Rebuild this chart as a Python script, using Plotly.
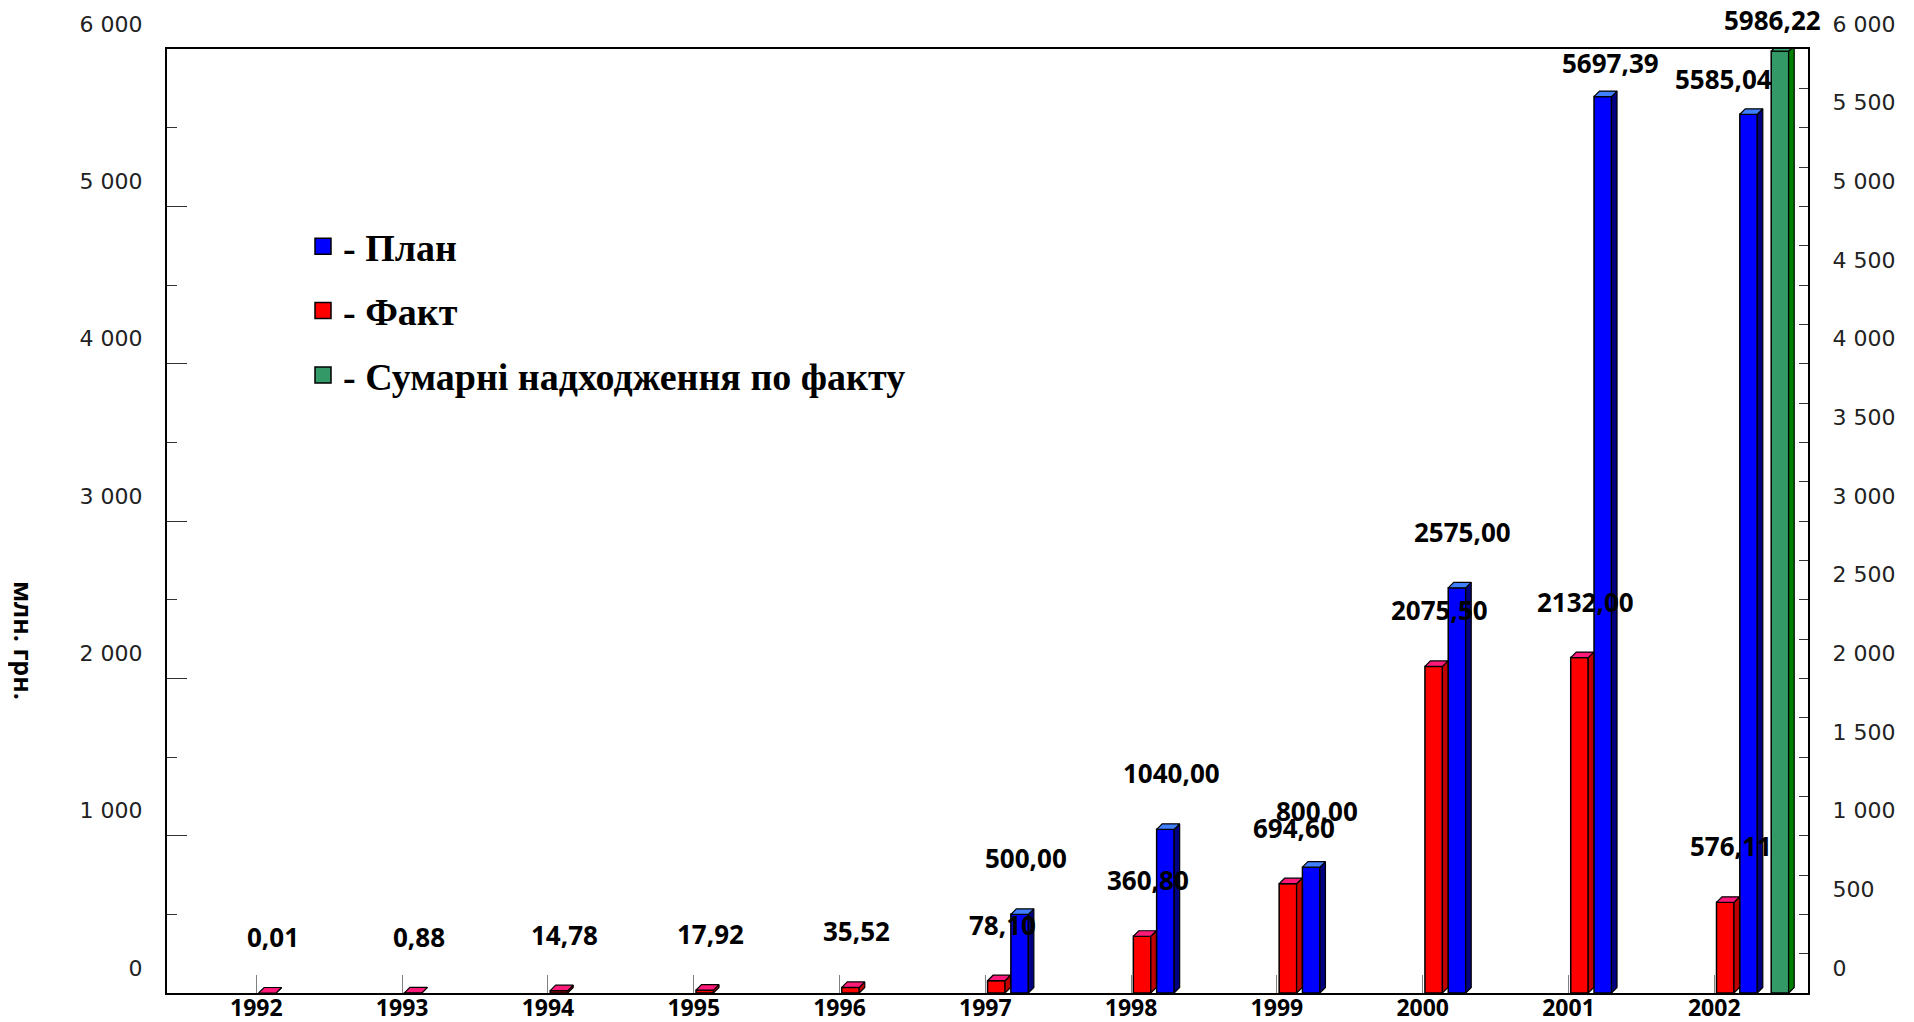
import plotly.graph_objects as go

# ---------------- data ----------------
years = [1992, 1993, 1994, 1995, 1996, 1997, 1998, 1999, 2000, 2001, 2002]
fact = [0.01, 0.88, 14.78, 17.92, 35.52, 78.10, 360.80, 694.60, 2075.50, 2132.00, 576.11]
plan = [None, None, None, None, None, 500.00, 1040.00, 800.00, 2575.00, 5697.39, 5585.04]
total_years = [2002]
total = [5986.22]

y_ticks_left = [0, 1000, 2000, 3000, 4000, 5000, 6000]
y_ticks_right = [0, 500, 1000, 1500, 2000, 2500, 3000, 3500, 4000, 4500, 5000, 5500, 6000]

# ---------------- geometry / style ----------------
OFF = 8                                   # page body margin
W, H = 1914 - OFF, 1022 - OFF
P_L, P_R, P_T, P_B = 167, 1808, 49, 993   # plot area in page pixels
ML, MT = P_L - OFF, P_T - OFF
MR, MB = W - (P_R - OFF), H - (P_B - OFF)
PW, PH = P_R - P_L, P_B - P_T
X_RANGE = [1991.387, 2002.643]
Y_RANGE = [0, 6000]
ux = (X_RANGE[1] - X_RANGE[0]) / PW      # x units per pixel
uy = (Y_RANGE[1] - Y_RANGE[0]) / PH      # y units per pixel
BAR_W = 17.5 * ux
DX, DY = 5.5 * ux, 5.5 * uy              # 3-D depth


def paper_x(px):
    return (px - P_L) / PW


def paper_y(py):
    return (P_B - py) / PH


LABEL_FONT = dict(family="Open Sans", size=26, color="black", weight="bold")
TICK_FONT = dict(family="DejaVu Sans", size=22, color="#222222")


def fmt(v):
    return f"{v:.2f}".replace(".", ",")


series = [
    dict(name="- План", xs=years, vals=plan, off=34.3, front="#0000FF", side="#000080",
         top="#4080FF", yax="y", rank=1),
    dict(name="- Факт", xs=years, vals=fact, off=11.0, front="#FF0000", side="#C00000",
         top="#FF1A7A", yax="y", rank=2),
    dict(name="- Сумарні надходження по факту", xs=total_years, vals=total, off=65.7,
         front="#339966", side="#008000", top="#3FAA72", yax="y2", rank=3),
]

# label shift overrides (px) for labels pushed by the chart edge
label_shift = {("- План", 2001): (8, 34), ("- План", 2002): (-25, 35),
               ("- Сумарні надходження по факту", 2002): (-7, 31)}

fig = go.Figure()
annotations = []

for s in series:
    xc, vv, yrs = [], [], []
    for x, v in zip(s["xs"], s["vals"]):
        if v is None:
            continue
        xc.append(x + s["off"] * ux)
        vv.append(v)
        yrs.append(x)
    # front faces
    fig.add_trace(go.Bar(
        x=xc, y=vv, width=BAR_W, name=s["name"], yaxis=s["yax"],
        marker=dict(color=s["front"], line=dict(color="black", width=1.5)),
        showlegend=False, hoverinfo="skip",
    ))
    # side and top faces
    sx, sy, tx, ty = [], [], [], []
    for x, v in zip(xc, vv):
        xl, xr = x - BAR_W / 2, x + BAR_W / 2
        sx += [xr, xr + DX, xr + DX, xr, xr, None]
        sy += [0, DY, v + DY, v, 0, None]
        tx += [xl, xl + DX, xr + DX, xr, xl, None]
        ty += [v, v + DY, v + DY, v, v, None]
    for px_, py_, col in ((sx, sy, s["side"]), (tx, ty, s["top"])):
        fig.add_trace(go.Scatter(
            x=px_, y=py_, mode="lines", fill="toself", fillcolor=col,
            line=dict(color="black", width=1.2), yaxis=s["yax"],
            showlegend=False, hoverinfo="skip",
        ))
    # legend entry (square swatch)
    fig.add_trace(go.Scatter(
        x=[None], y=[None], mode="markers", name=s["name"], yaxis=s["yax"],
        marker=dict(symbol="square", size=16, color=s["front"],
                    line=dict(color="black", width=1.5)),
        legendrank=s["rank"], legendgroup=s["name"], showlegend=True, hoverinfo="skip",
    ))
    # value labels
    for x, v, yr in zip(xc, vv, yrs):
        xs_, ys_ = label_shift.get((s["name"], yr), (6, 56))
        annotations.append(dict(
            x=x, y=v, xref="x", yref=s["yax"], text=fmt(v), showarrow=False,
            xshift=xs_, yshift=ys_, font=LABEL_FONT, xanchor="center", yanchor="middle",
        ))

annotations.append(dict(
    x=paper_x(24), y=paper_y(640), xref="paper", yref="paper",
    xanchor="center", yanchor="middle",
    text="млн. грн.", textangle=90, showarrow=False,
    font=dict(family="Open Sans", size=25, color="black", weight="bold"),
))

fig.update_layout(
    width=W, height=H,
    margin=dict(l=ML, r=MR, t=MT, b=MB, pad=0, autoexpand=False),
    plot_bgcolor="white", paper_bgcolor="white",
    barmode="overlay",
    separators=", ",
    showlegend=True,
    legend=dict(
        x=paper_x(303), y=paper_y(215), xanchor="left", yanchor="top",
        font=dict(family="Liberation Serif", size=38, color="black", weight="bold"),
        bgcolor="rgba(0,0,0,0)", tracegroupgap=12, traceorder="grouped",
        itemsizing="trace",
    ),
    xaxis=dict(
        range=X_RANGE, tickmode="array", tickvals=years, ticktext=[str(y) for y in years],
        ticks="inside", ticklen=18, tickcolor="#808080", tickwidth=1,
        showline=True, linecolor="black", linewidth=2, mirror=True,
        showgrid=False, zeroline=False, automargin=False,
        tickfont=dict(family="Open Sans", size=23, color="black", weight="bold"),
        ticklabelstandoff=-7,
    ),
    yaxis=dict(
        range=Y_RANGE, tickmode="array", tickvals=y_ticks_left, tickformat=",",
        ticks="inside", ticklen=20, tickcolor="#333333", tickwidth=1,
        minor=dict(dtick=500, ticks="inside", ticklen=10, tickcolor="#333333"),
        showline=True, linecolor="black", linewidth=2,
        showgrid=False, zeroline=False, tickfont=TICK_FONT, automargin=False,
        ticklabelshift=-25, ticklabelstandoff=18,
    ),
    yaxis2=dict(
        range=Y_RANGE, overlaying="y", side="right", tickmode="array",
        tickvals=y_ticks_right, tickformat=",",
        ticks="inside", ticklen=9, tickcolor="#333333", tickwidth=1,
        minor=dict(dtick=250, ticks="inside", ticklen=9, tickcolor="#333333"),
        showline=True, linecolor="black", linewidth=2,
        showgrid=False, zeroline=False, tickfont=TICK_FONT, automargin=False,
        ticklabelshift=-25, ticklabelstandoff=18,
    ),
    annotations=annotations,
)

fig.write_html("out.html")
